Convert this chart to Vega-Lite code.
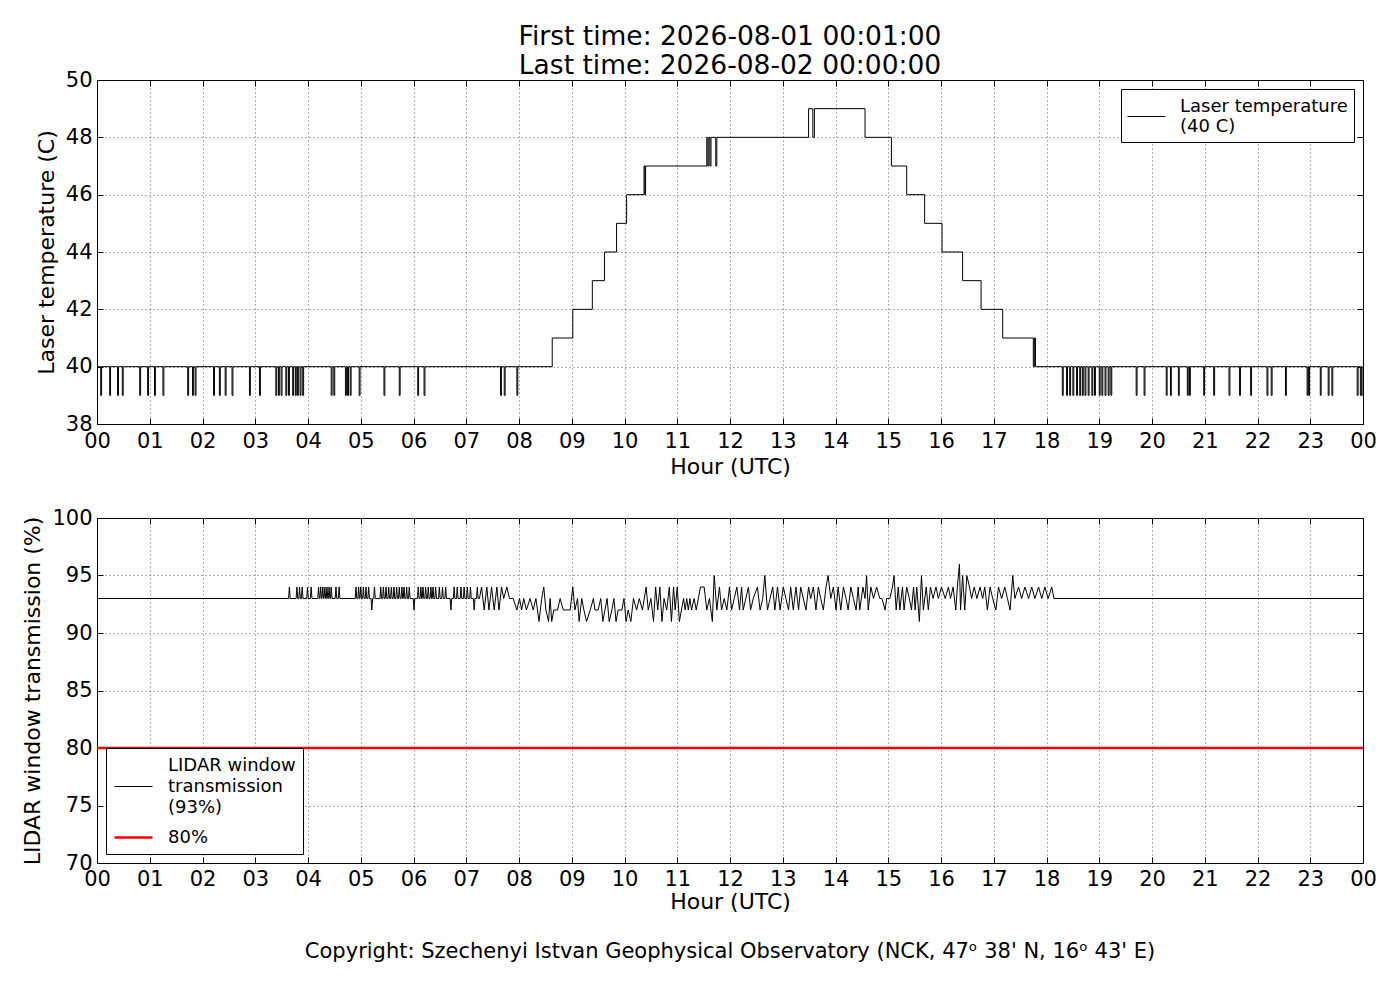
{
  "$schema": "https://vega.github.io/schema/vega-lite/v6.json",
  "background": "white",
  "padding": {"left": 21, "top": 23, "right": 5, "bottom": 5},
  "spacing": 28,
  "resolve": {"scale": {"color": "independent", "strokeWidth": "independent"}, "legend": {"color": "independent", "strokeWidth": "independent"}},
  "config": {
    "font": "DejaVu Sans",
    "view": {"stroke": "black", "strokeWidth": 1},
    "axis": {
      "domain": false,
      "grid": true,
      "gridColor": "black",
      "gridDash": [1, 3],
      "gridWidth": 0.8,
      "gridOpacity": 0.8,
      "tickColor": "black",
      "tickSize": -6,
      "tickWidth": 1,
      "labelFont": "DejaVu Sans",
      "labelFontSize": 21,
      "labelColor": "black",
      "labelPadding": 11,
      "labelFlush": false,
      "labelOverlap": false,
      "titleFont": "DejaVu Sans",
      "titleFontSize": 22,
      "titleFontWeight": "normal",
      "titleColor": "black",
      "zindex": 1
    },
    "axisX": {"titlePadding": 5, "labelPadding": 12},
    "axisY": {"titlePadding": 7},
    "legend": {
      "strokeColor": "black",
      "fillColor": "white",
      "padding": 7,
      "cornerRadius": 0,
      "labelFont": "DejaVu Sans",
      "labelFontSize": 18,
      "labelColor": "black",
      "labelLimit": 400,
      "symbolType": "stroke",
      "symbolSize": 1444,
      "symbolStrokeWidth": 1,
      "labelOffset": 14,
      "offset": 9,
      "rowPadding": -6,
      "title": null
    }
  },
  "datasets": {
    "temp": [
      {"h":0.017,"v":40},
      {"h":0.07,"v":39},{"h":0.087,"v":40},{"h":0.24,"v":39},{"h":0.257,"v":40},{"h":0.39,"v":39},{"h":0.407,"v":40},{"h":0.48,"v":39},{"h":0.497,"v":40},
      {"h":0.81,"v":39},{"h":0.827,"v":40},{"h":0.96,"v":39},{"h":0.977,"v":40},{"h":1.09,"v":39},{"h":1.107,"v":40},{"h":1.25,"v":39},{"h":1.267,"v":40},
      {"h":1.72,"v":39},{"h":1.737,"v":40},{"h":1.81,"v":39},{"h":1.827,"v":40},{"h":1.86,"v":39},{"h":1.877,"v":40},{"h":2.21,"v":39},{"h":2.227,"v":40},
      {"h":2.32,"v":39},{"h":2.337,"v":40},{"h":2.43,"v":39},{"h":2.447,"v":40},{"h":2.56,"v":39},{"h":2.577,"v":40},{"h":2.89,"v":39},{"h":2.907,"v":40},
      {"h":3.08,"v":39},{"h":3.097,"v":40},{"h":3.39,"v":39},{"h":3.407,"v":40},{"h":3.44,"v":39},{"h":3.457,"v":40},{"h":3.49,"v":39},{"h":3.507,"v":40},
      {"h":3.58,"v":39},{"h":3.597,"v":40},{"h":3.63,"v":39},{"h":3.647,"v":40},{"h":3.71,"v":39},{"h":3.727,"v":40},{"h":3.76,"v":39},{"h":3.777,"v":40},
      {"h":3.8,"v":39},{"h":3.817,"v":40},{"h":3.85,"v":39},{"h":3.867,"v":40},{"h":3.9,"v":39},{"h":3.917,"v":40},{"h":4.44,"v":39},{"h":4.457,"v":40},
      {"h":4.49,"v":39},{"h":4.507,"v":40},{"h":4.71,"v":39},{"h":4.727,"v":40},{"h":4.75,"v":39},{"h":4.767,"v":40},{"h":4.8,"v":39},{"h":4.817,"v":40},
      {"h":4.97,"v":39},{"h":4.987,"v":40},{"h":5.44,"v":39},{"h":5.457,"v":40},{"h":5.73,"v":39},{"h":5.747,"v":40},{"h":6.08,"v":39},{"h":6.097,"v":40},
      {"h":6.2,"v":39},{"h":6.217,"v":40},{"h":7.65,"v":39},{"h":7.667,"v":40},{"h":7.72,"v":39},{"h":7.737,"v":40},{"h":7.96,"v":39},{"h":7.977,"v":40},
      {"h":8.63,"v":41},{"h":9.02,"v":42},{"h":9.39,"v":43},{"h":9.62,"v":44},{"h":9.85,"v":45},{"h":10.04,"v":46},
      {"h":10.37,"v":47},{"h":10.385,"v":46},{"h":10.4,"v":47},
      {"h":11.56,"v":48},{"h":11.58,"v":47},{"h":11.6,"v":48},{"h":11.62,"v":47},{"h":11.64,"v":48},{"h":11.73,"v":47},{"h":11.75,"v":48},
      {"h":13.49,"v":49},{"h":13.57,"v":48},{"h":13.6,"v":49},
      {"h":14.56,"v":48},{"h":15.06,"v":47},{"h":15.35,"v":46},{"h":15.69,"v":45},{"h":16.02,"v":44},{"h":16.41,"v":43},{"h":16.76,"v":42},{"h":17.17,"v":41},
      {"h":17.75,"v":40},{"h":17.77,"v":41},{"h":17.79,"v":40},
      {"h":18.3,"v":39},{"h":18.317,"v":40},{"h":18.38,"v":39},{"h":18.397,"v":40},{"h":18.44,"v":39},{"h":18.457,"v":40},{"h":18.5,"v":39},{"h":18.517,"v":40},
      {"h":18.57,"v":39},{"h":18.587,"v":40},{"h":18.63,"v":39},{"h":18.647,"v":40},{"h":18.68,"v":39},{"h":18.697,"v":40},{"h":18.73,"v":39},{"h":18.747,"v":40},
      {"h":18.79,"v":39},{"h":18.807,"v":40},{"h":18.86,"v":39},{"h":18.877,"v":40},{"h":18.91,"v":39},{"h":18.927,"v":40},{"h":19.0,"v":39},{"h":19.017,"v":40},
      {"h":19.05,"v":39},{"h":19.067,"v":40},{"h":19.11,"v":39},{"h":19.127,"v":40},{"h":19.17,"v":39},{"h":19.187,"v":40},{"h":19.22,"v":39},{"h":19.237,"v":40},
      {"h":19.7,"v":39},{"h":19.717,"v":40},{"h":19.85,"v":39},{"h":19.867,"v":40},{"h":20.27,"v":39},{"h":20.287,"v":40},{"h":20.35,"v":39},{"h":20.367,"v":40},
      {"h":20.5,"v":39},{"h":20.517,"v":40},{"h":20.67,"v":39},{"h":20.687,"v":40},{"h":20.71,"v":39},{"h":20.727,"v":40},{"h":20.98,"v":39},{"h":20.997,"v":40},
      {"h":21.17,"v":39},{"h":21.187,"v":40},{"h":21.46,"v":39},{"h":21.477,"v":40},{"h":21.66,"v":39},{"h":21.677,"v":40},{"h":21.87,"v":39},{"h":21.887,"v":40},
      {"h":22.18,"v":39},{"h":22.197,"v":40},{"h":22.26,"v":39},{"h":22.277,"v":40},{"h":22.53,"v":39},{"h":22.547,"v":40},{"h":22.94,"v":39},{"h":22.957,"v":40},
      {"h":22.97,"v":39},{"h":22.987,"v":40},{"h":23.19,"v":39},{"h":23.207,"v":40},{"h":23.34,"v":39},{"h":23.357,"v":40},{"h":23.41,"v":39},{"h":23.427,"v":40},
      {"h":23.89,"v":39},{"h":23.907,"v":40},{"h":23.95,"v":39},{"h":23.967,"v":40},{"h":23.983,"v":39},{"h":24,"v":39}
    ],
    "trans": [
      {"h":0.017,"v":93},
      {"h":3.632,"v":93},{"h":3.647,"v":94},{"h":3.662,"v":93},
      {"h":3.775,"v":93},{"h":3.79,"v":94},{"h":3.805,"v":93},
      {"h":3.825,"v":93},{"h":3.84,"v":94},{"h":3.855,"v":93},
      {"h":3.875,"v":93},{"h":3.89,"v":94},{"h":3.905,"v":93},
      {"h":3.975,"v":93},{"h":3.99,"v":94},{"h":4.005,"v":93},
      {"h":4.045,"v":93},{"h":4.06,"v":94},{"h":4.075,"v":93},
      {"h":4.185,"v":93},{"h":4.2,"v":94},{"h":4.215,"v":93},
      {"h":4.225,"v":93},{"h":4.24,"v":94},{"h":4.255,"v":93},
      {"h":4.265,"v":93},{"h":4.28,"v":94},{"h":4.295,"v":93},
      {"h":4.305,"v":93},{"h":4.32,"v":94},{"h":4.335,"v":93},
      {"h":4.345,"v":93},{"h":4.36,"v":94},{"h":4.375,"v":93},
      {"h":4.385,"v":93},{"h":4.4,"v":94},{"h":4.415,"v":93},
      {"h":4.425,"v":93},{"h":4.44,"v":94},{"h":4.455,"v":93},
      {"h":4.515,"v":93},{"h":4.53,"v":94},{"h":4.545,"v":93},
      {"h":4.575,"v":93},{"h":4.59,"v":94},{"h":4.605,"v":93},
      {"h":4.895,"v":93},{"h":4.91,"v":94},{"h":4.925,"v":93},
      {"h":4.945,"v":93},{"h":4.96,"v":94},{"h":4.975,"v":93},
      {"h":4.985,"v":93},{"h":5.0,"v":94},{"h":5.015,"v":93},
      {"h":5.035,"v":93},{"h":5.05,"v":94},{"h":5.065,"v":93},
      {"h":5.085,"v":93},{"h":5.1,"v":94},{"h":5.115,"v":93},
      {"h":5.135,"v":93},{"h":5.15,"v":94},{"h":5.165,"v":93},
      {"h":5.195,"v":93},{"h":5.21,"v":92},{"h":5.225,"v":93},
      {"h":5.245,"v":93},{"h":5.26,"v":94},{"h":5.275,"v":93},
      {"h":5.365,"v":93},{"h":5.38,"v":94},{"h":5.395,"v":93},
      {"h":5.415,"v":93},{"h":5.43,"v":94},{"h":5.445,"v":93},
      {"h":5.465,"v":93},{"h":5.48,"v":94},{"h":5.495,"v":93},
      {"h":5.515,"v":93},{"h":5.53,"v":94},{"h":5.545,"v":93},
      {"h":5.565,"v":93},{"h":5.58,"v":94},{"h":5.595,"v":93},
      {"h":5.615,"v":93},{"h":5.63,"v":94},{"h":5.645,"v":93},
      {"h":5.665,"v":93},{"h":5.68,"v":94},{"h":5.695,"v":93},
      {"h":5.715,"v":93},{"h":5.73,"v":94},{"h":5.745,"v":93},
      {"h":5.765,"v":93},{"h":5.78,"v":94},{"h":5.795,"v":93},
      {"h":5.805,"v":93},{"h":5.82,"v":94},{"h":5.835,"v":93},
      {"h":5.855,"v":93},{"h":5.87,"v":94},{"h":5.885,"v":93},
      {"h":5.905,"v":93},{"h":5.92,"v":94},{"h":5.935,"v":93},
      {"h":5.995,"v":93},{"h":6.01,"v":92},{"h":6.025,"v":93},
      {"h":6.075,"v":93},{"h":6.09,"v":94},{"h":6.105,"v":93},
      {"h":6.125,"v":93},{"h":6.14,"v":94},{"h":6.155,"v":93},
      {"h":6.165,"v":93},{"h":6.18,"v":94},{"h":6.195,"v":93},
      {"h":6.215,"v":93},{"h":6.23,"v":94},{"h":6.245,"v":93},
      {"h":6.265,"v":93},{"h":6.28,"v":94},{"h":6.295,"v":93},
      {"h":6.315,"v":93},{"h":6.33,"v":94},{"h":6.345,"v":93},
      {"h":6.355,"v":93},{"h":6.37,"v":94},{"h":6.385,"v":93},
      {"h":6.405,"v":93},{"h":6.42,"v":94},{"h":6.435,"v":93},
      {"h":6.475,"v":93},{"h":6.49,"v":94},{"h":6.505,"v":93},
      {"h":6.535,"v":93},{"h":6.55,"v":94},{"h":6.565,"v":93},
      {"h":6.595,"v":93},{"h":6.61,"v":94},{"h":6.625,"v":93},
      {"h":6.695,"v":93},{"h":6.71,"v":92},{"h":6.725,"v":93},
      {"h":6.755,"v":93},{"h":6.77,"v":94},{"h":6.785,"v":93},
      {"h":6.815,"v":93},{"h":6.83,"v":94},{"h":6.845,"v":93},
      {"h":6.885,"v":93},{"h":6.9,"v":94},{"h":6.915,"v":93},
      {"h":6.945,"v":93},{"h":6.96,"v":94},{"h":6.975,"v":93},
      {"h":7.005,"v":93},{"h":7.02,"v":94},{"h":7.035,"v":93},
      {"h":7.065,"v":93},{"h":7.08,"v":94},{"h":7.095,"v":93},
      {"h":7.135,"v":93},{"h":7.15,"v":92},{"h":7.165,"v":93},
      {"h":7.195,"v":93},{"h":7.21,"v":94},{"h":7.225,"v":93},
      {"h":7.25,"v":93},
      {"h":7.29,"v":94},{"h":7.34,"v":92},{"h":7.39,"v":94},{"h":7.43,"v":92},{"h":7.48,"v":94},{"h":7.53,"v":92},{"h":7.58,"v":94},{"h":7.62,"v":92},
      {"h":7.67,"v":94},{"h":7.71,"v":93},{"h":7.77,"v":94},{"h":7.82,"v":93},{"h":7.89,"v":93},{"h":7.96,"v":92},{"h":8.01,"v":93},{"h":8.05,"v":92},
      {"h":8.09,"v":93},{"h":8.14,"v":92},{"h":8.21,"v":93},{"h":8.27,"v":92},{"h":8.32,"v":93},{"h":8.38,"v":91},{"h":8.43,"v":93},{"h":8.47,"v":94},
      {"h":8.51,"v":92},{"h":8.56,"v":91},{"h":8.59,"v":93},{"h":8.62,"v":91},{"h":8.66,"v":92},{"h":8.73,"v":92},{"h":8.78,"v":93},{"h":8.84,"v":92},
      {"h":8.9,"v":92},{"h":8.97,"v":92},{"h":9.02,"v":94},{"h":9.06,"v":92},{"h":9.11,"v":93},{"h":9.14,"v":91},{"h":9.19,"v":93},{"h":9.23,"v":92},
      {"h":9.28,"v":91},{"h":9.35,"v":92},{"h":9.41,"v":93},{"h":9.44,"v":92},{"h":9.5,"v":92},{"h":9.55,"v":93},{"h":9.59,"v":91},{"h":9.63,"v":92},
      {"h":9.67,"v":93},{"h":9.71,"v":91},{"h":9.76,"v":92},{"h":9.8,"v":93},{"h":9.84,"v":91},{"h":9.88,"v":92},{"h":9.95,"v":92},{"h":9.99,"v":93},
      {"h":10.03,"v":91},{"h":10.07,"v":92},{"h":10.12,"v":91},{"h":10.17,"v":93},{"h":10.23,"v":92},{"h":10.28,"v":93},{"h":10.34,"v":92},{"h":10.41,"v":94},
      {"h":10.45,"v":92},{"h":10.5,"v":93},{"h":10.55,"v":91},{"h":10.59,"v":94},{"h":10.63,"v":92},{"h":10.67,"v":94},{"h":10.71,"v":91},{"h":10.75,"v":93},
      {"h":10.8,"v":92},{"h":10.85,"v":94},{"h":10.89,"v":91},{"h":10.93,"v":94},{"h":10.96,"v":92},{"h":11.0,"v":94},{"h":11.04,"v":91},
      {"h":11.08,"v":92},{"h":11.12,"v":93},{"h":11.15,"v":92},{"h":11.18,"v":93},{"h":11.21,"v":92},{"h":11.24,"v":93},{"h":11.27,"v":92},{"h":11.32,"v":93},
      {"h":11.36,"v":92},{"h":11.4,"v":93},{"h":11.44,"v":94},{"h":11.51,"v":94},{"h":11.56,"v":92},{"h":11.61,"v":93},{"h":11.665,"v":91},{"h":11.7,"v":95},
      {"h":11.75,"v":92},{"h":11.8,"v":94},{"h":11.84,"v":92},{"h":11.89,"v":93},{"h":11.94,"v":92},{"h":11.99,"v":94},{"h":12.03,"v":92},{"h":12.08,"v":93},
      {"h":12.13,"v":94},{"h":12.18,"v":92},{"h":12.22,"v":94},{"h":12.25,"v":92},{"h":12.3,"v":93},{"h":12.35,"v":94},{"h":12.39,"v":92},{"h":12.44,"v":93},
      {"h":12.52,"v":94},{"h":12.57,"v":92},{"h":12.62,"v":93},{"h":12.66,"v":95},{"h":12.71,"v":92},{"h":12.76,"v":93},{"h":12.81,"v":94},{"h":12.85,"v":92},
      {"h":12.9,"v":94},{"h":12.95,"v":92},{"h":13.01,"v":94},{"h":13.06,"v":93},{"h":13.11,"v":92},{"h":13.15,"v":94},{"h":13.2,"v":92},{"h":13.25,"v":94},
      {"h":13.3,"v":92},{"h":13.34,"v":94},{"h":13.39,"v":93},{"h":13.44,"v":92},{"h":13.49,"v":94},{"h":13.53,"v":93},{"h":13.58,"v":94},{"h":13.63,"v":92},
      {"h":13.675,"v":94},{"h":13.72,"v":93},{"h":13.77,"v":92},{"h":13.82,"v":94},{"h":13.86,"v":95},{"h":13.91,"v":93},{"h":13.96,"v":94},{"h":14.01,"v":92},
      {"h":14.05,"v":94},{"h":14.1,"v":92},{"h":14.15,"v":94},{"h":14.2,"v":93},{"h":14.24,"v":92},{"h":14.29,"v":94},{"h":14.34,"v":93},{"h":14.39,"v":92},
      {"h":14.43,"v":94},{"h":14.46,"v":92},{"h":14.52,"v":94},{"h":14.56,"v":93},{"h":14.59,"v":95},{"h":14.62,"v":92},{"h":14.67,"v":94},{"h":14.72,"v":93},
      {"h":14.78,"v":94},{"h":14.84,"v":93},{"h":14.88,"v":93},{"h":14.94,"v":92},{"h":14.97,"v":93},{"h":15.03,"v":93},{"h":15.08,"v":94},{"h":15.11,"v":95},
      {"h":15.15,"v":92},{"h":15.19,"v":94},{"h":15.22,"v":92},{"h":15.27,"v":94},{"h":15.3,"v":92},{"h":15.35,"v":94},{"h":15.4,"v":93},{"h":15.44,"v":92},
      {"h":15.48,"v":94},{"h":15.51,"v":92},{"h":15.54,"v":94},{"h":15.59,"v":91},{"h":15.63,"v":95},{"h":15.665,"v":92},{"h":15.72,"v":94},{"h":15.76,"v":92},
      {"h":15.8,"v":94},{"h":15.85,"v":93},{"h":15.905,"v":94},{"h":15.95,"v":93},{"h":16.01,"v":94},{"h":16.08,"v":93},{"h":16.14,"v":94},{"h":16.18,"v":93},
      {"h":16.23,"v":94},{"h":16.28,"v":92},{"h":16.31,"v":94},{"h":16.35,"v":96},{"h":16.37,"v":92},{"h":16.41,"v":95},{"h":16.45,"v":92},{"h":16.49,"v":95},
      {"h":16.54,"v":94},{"h":16.58,"v":93},{"h":16.63,"v":94},{"h":16.68,"v":93},{"h":16.74,"v":94},{"h":16.79,"v":93},{"h":16.83,"v":94},{"h":16.88,"v":92},
      {"h":16.93,"v":94},{"h":16.98,"v":93},{"h":17.04,"v":92},{"h":17.09,"v":94},{"h":17.15,"v":93},{"h":17.21,"v":94},{"h":17.26,"v":93},{"h":17.31,"v":92},
      {"h":17.36,"v":95},{"h":17.4,"v":93},{"h":17.47,"v":94},{"h":17.53,"v":93},{"h":17.59,"v":94},{"h":17.66,"v":93},{"h":17.72,"v":94},{"h":17.78,"v":93},
      {"h":17.85,"v":94},{"h":17.91,"v":93},{"h":17.97,"v":94},{"h":18.03,"v":93},{"h":18.1,"v":94},{"h":18.14,"v":93},
      {"h":24,"v":93}
    ],
    "limit": [{"h":0,"v":80},{"h":24,"v":80}]
  },
  "vconcat": [
    {
      "width": 1266,
      "height": 344,
      "title": {
        "text": ["First time: 2026-08-01 00:01:00", "Last time: 2026-08-02 00:00:00"],
        "font": "DejaVu Sans",
        "fontSize": 26.5,
        "fontWeight": "normal",
        "color": "black",
        "anchor": "middle",
        "frame": "group",
        "lineHeight": 29,
        "offset": -10
      },
      "data": {"name": "temp"},
      "layer": [
        {
          "mark": {"type": "line", "interpolate": "step-after", "strokeWidth": 1, "clip": true},
          "encoding": {
            "x": {"field": "h", "type": "quantitative", "scale": {"domain": [0, 24], "nice": false, "zero": false},
              "axis": {"values": [0,1,2,3,4,5,6,7,8,9,10,11,12,13,14,15,16,17,18,19,20,21,22,23,24],
                "labelExpr": "(datum.value % 24) < 10 ? '0' + (datum.value % 24) : '' + datum.value", "title": "Hour (UTC)"}},
            "y": {"field": "v", "type": "quantitative", "scale": {"domain": [38, 50], "nice": false, "zero": false},
              "axis": {"values": [38,40,42,44,46,48,50], "title": "Laser temperature (C)"}},
            "color": {"datum": "Laser temperature|(40 C)", "scale": {"domain": ["Laser temperature|(40 C)"], "range": ["black"]},
              "legend": {"orient": "top-right", "padding": 6, "labelExpr": "split(datum.label, '|')",
                "encode": {"labels": {"update": {"lineHeight": {"value": 20}, "dy": {"signal": "-(length(split(datum.label, '|')) - 1) * 8"}}},
                  "symbols": {"update": {"y": {"signal": "datum.size * 0.5 + (length(split(datum.label, '|')) - 1) * 2"}}}}}}
          }
        },
        {
          "mark": {"type": "line", "interpolate": "step-after", "opacity": 0},
          "encoding": {
            "x": {"field": "h", "type": "quantitative", "axis": {"orient": "top", "values": [0,1,2,3,4,5,6,7,8,9,10,11,12,13,14,15,16,17,18,19,20,21,22,23,24], "labels": false, "grid": false, "title": null}},
            "y": {"field": "v", "type": "quantitative", "axis": {"orient": "right", "values": [38,40,42,44,46,48,50], "labels": false, "grid": false, "title": null}}
          }
        }
      ],
      "resolve": {"axis": {"x": "independent", "y": "independent"}}
    },
    {
      "width": 1266,
      "height": 345,
      "title": {
        "text": "Copyright: Szechenyi Istvan Geophysical Observatory (NCK, 47ᵒ  38' N, 16ᵒ  43' E)",
        "orient": "bottom",
        "font": "DejaVu Sans",
        "fontSize": 21,
        "fontWeight": "normal",
        "color": "black",
        "anchor": "middle",
        "frame": "group",
        "offset": 29
      },
      "layer": [
        {
          "data": {"name": "trans"},
          "mark": {"type": "line", "clip": true},
          "encoding": {
            "x": {"field": "h", "type": "quantitative", "scale": {"domain": [0, 24], "nice": false, "zero": false},
              "axis": {"values": [0,1,2,3,4,5,6,7,8,9,10,11,12,13,14,15,16,17,18,19,20,21,22,23,24], "titlePadding": 2, "labelPadding": 11,
                "labelExpr": "(datum.value % 24) < 10 ? '0' + (datum.value % 24) : '' + datum.value", "title": "Hour (UTC)"}},
            "y": {"field": "v", "type": "quantitative", "scale": {"domain": [70, 100], "nice": false, "zero": false},
              "axis": {"values": [70,75,80,85,90,95,100], "title": "LIDAR window transmission (%)"}},
            "color": {"datum": "LIDAR window|transmission|(93%)",
              "scale": {"domain": ["LIDAR window|transmission|(93%)", "80%"], "range": ["black", "#ff0000"]},
              "legend": {"orient": "bottom-left", "labelExpr": "split(datum.label, '|')",
                "encode": {"labels": {"update": {"lineHeight": {"value": 21}, "dy": {"signal": "-(length(split(datum.label, '|')) - 1) * 4.5"}}},
                  "symbols": {"update": {"y": {"signal": "datum.size * 0.5 + (length(split(datum.label, '|')) - 1) * 6"}}}}}},
            "strokeWidth": {"datum": "LIDAR window|transmission|(93%)", "type": "nominal",
              "scale": {"type": "point", "padding": 0, "domain": ["LIDAR window|transmission|(93%)", "80%"], "range": [1, 2.5]}}
          }
        },
        {
          "data": {"name": "limit"},
          "mark": {"type": "line"},
          "encoding": {
            "x": {"field": "h", "type": "quantitative", "axis": {"orient": "top", "values": [0,1,2,3,4,5,6,7,8,9,10,11,12,13,14,15,16,17,18,19,20,21,22,23,24], "labels": false, "grid": false, "title": null}},
            "y": {"field": "v", "type": "quantitative", "axis": {"orient": "right", "values": [70,75,80,85,90,95,100], "labels": false, "grid": false, "title": null}},
            "color": {"datum": "80%"},
            "strokeWidth": {"datum": "80%", "type": "nominal"}
          }
        }
      ],
      "resolve": {"axis": {"x": "independent", "y": "independent"}}
    }
  ]
}
